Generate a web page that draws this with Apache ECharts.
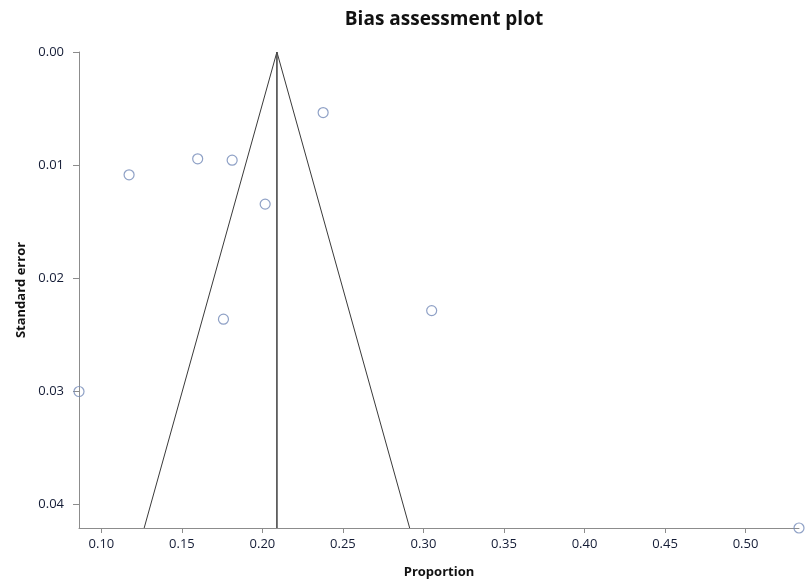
<!DOCTYPE html>
<html>
<head>
<meta charset="utf-8">
<script src="https://cdn.jsdelivr.net/npm/echarts@6/dist/echarts.min.js"></script>
<style>
  html, body { margin: 0; padding: 0; background: #ffffff; }
  #chart { width: 811px; height: 580px; }
</style>
</head>
<body>
<div id="chart"></div>
<script>
// Study estimates: proportion and its standard error
const proportions = [0.2377, 0.1172, 0.1598, 0.1812, 0.2017, 0.1758, 0.3051, 0.0861, 0.5332];
const standardErrors = [0.00535, 0.01085, 0.00944, 0.00956, 0.01344, 0.02361, 0.02285, 0.0300, 0.04206];

// Pooled proportion and the largest standard error shown
const pooledProportion = 0.209;
const maxStandardError = 0.04206;
const zCrit = 1.96;

// Axis extents and tick labels
const xMin = 0.0861;
const xMax = 0.5332;
const xTicks = [0.10, 0.15, 0.20, 0.25, 0.30, 0.35, 0.40, 0.45, 0.50];
const yTicks = [0.00, 0.01, 0.02, 0.03, 0.04];

const studies = proportions.map((p, i) => [p, standardErrors[i]]);

// 95% pseudo-confidence funnel around the pooled estimate
const funnel = [
  [pooledProportion - zCrit * maxStandardError, maxStandardError],
  [pooledProportion, 0],
  [pooledProportion + zCrit * maxStandardError, maxStandardError]
];
const pooledLine = [[pooledProportion, 0], [pooledProportion, maxStandardError]];

const FONT = '"Open Sans", "Noto Sans", sans-serif';
const labelColor = '#141c36';
const axisColor = '#8c8c8c';

const chart = echarts.init(document.getElementById('chart'), null, { renderer: 'canvas' });
chart.setOption({
  animation: false,
  backgroundColor: '#ffffff',
  title: {
    text: 'Bias assessment plot',
    left: 439,
    textAlign: 'center',
    top: 5,
    textStyle: { fontFamily: FONT, fontSize: 19, fontWeight: 'bold', color: '#111111' }
  },
  grid: {
    left: 79, right: 12, top: 52, bottom: 52,
    containLabel: false,
    outerBoundsMode: 'none'
  },
  xAxis: {
    type: 'value',
    min: xMin,
    max: xMax,
    name: 'Proportion',
    nameLocation: 'middle',
    nameGap: 38,
    nameTextStyle: { fontFamily: FONT, fontSize: 13, fontWeight: 'bold', color: '#111111' },
    axisLine: { show: true, onZero: false, lineStyle: { color: axisColor, width: 1 } },
    axisTick: { show: true, length: 5, customValues: xTicks, lineStyle: { color: axisColor } },
    axisLabel: {
      customValues: xTicks,
      margin: 10,
      fontFamily: FONT, fontSize: 13, color: labelColor,
      formatter: v => v.toFixed(2)
    },
    splitLine: { show: false }
  },
  yAxis: {
    type: 'value',
    inverse: true,
    min: 0,
    max: maxStandardError,
    name: 'Standard error',
    nameLocation: 'middle',
    nameGap: 49,
    nameTextStyle: { fontFamily: FONT, fontSize: 13, fontWeight: 'bold', color: '#111111' },
    axisLine: { show: true, onZero: false, lineStyle: { color: axisColor, width: 1 } },
    axisTick: { show: true, length: 6, customValues: yTicks, lineStyle: { color: axisColor } },
    axisLabel: {
      customValues: yTicks,
      margin: 15,
      fontFamily: FONT, fontSize: 13, color: labelColor,
      formatter: v => v.toFixed(2)
    },
    splitLine: { show: false }
  },
  series: [
    {
      name: 'Funnel',
      type: 'line',
      data: funnel,
      symbol: 'none',
      lineStyle: { color: '#3a3a3a', width: 1 },
      silent: true,
      z: 1
    },
    {
      name: 'Pooled',
      type: 'line',
      data: pooledLine,
      symbol: 'none',
      lineStyle: { color: '#4a4a4a', width: 1.6 },
      silent: true,
      z: 1
    },
    {
      name: 'Studies',
      type: 'scatter',
      data: studies,
      symbol: 'circle',
      symbolSize: 10,
      itemStyle: { color: 'rgba(255,255,255,0)', borderColor: '#7389b8', borderWidth: 1.2 },
      clip: false,
      z: 3
    }
  ]
});
</script>
</body>
</html>
